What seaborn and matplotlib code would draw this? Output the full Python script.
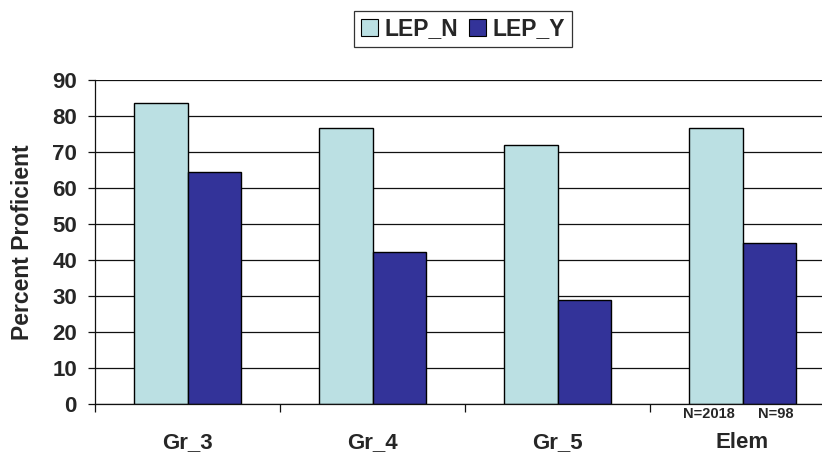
import matplotlib
matplotlib.use("Agg")
import matplotlib.pyplot as plt
import matplotlib.transforms as mtransforms
from matplotlib.patches import Patch
import seaborn as sns
import pandas as pd

# Chart data
grades = ["Gr_3", "Gr_4", "Gr_5", "Elem"]
lep_n = [83.5, 76.8, 72.0, 76.8]
lep_y = [64.5, 42.3, 28.9, 44.8]
groups = ["LEP_N", "LEP_Y"]
n_labels = ["N=2018", "N=98"]
y_ticks = [0, 10, 20, 30, 40, 50, 60, 70, 80, 90]

colors = {"LEP_N": "#BBE0E3", "LEP_Y": "#333399"}

df = pd.DataFrame({
    "Grade": grades * 2,
    "Group": [groups[0]] * len(grades) + [groups[1]] * len(grades),
    "Percent": lep_n + lep_y,
})

sns.set_style("white")
plt.rcParams["font.family"] = ["Liberation Sans", "DejaVu Sans"]
plt.rcParams["font.weight"] = "bold"

fig = plt.figure(figsize=(8.22, 4.53), dpi=100)
ax = fig.add_axes([95 / 822, 49 / 453, 740 / 822, 324 / 453])

bar_width = 0.573
sns.barplot(data=df, x="Grade", y="Percent", hue="Group", order=grades,
            hue_order=groups, palette=colors, width=bar_width,
            edgecolor="black", linewidth=1.0, saturation=1, ax=ax,
            legend=False)

ax.set_xlim(-0.5, 3.5)
ax.set_ylim(0, 90)
ax.set_yticks(y_ticks)
ax.set_yticklabels([str(v) for v in y_ticks], fontsize=16, fontweight="bold")
ax.yaxis.grid(True, color="#111111", linewidth=0.9)
ax.set_axisbelow(True)
ax.tick_params(axis="y", length=5, width=0.9, color="#111111", direction="out", pad=8, left=True)

# Category labels centered, tick marks at category boundaries
ax.set_xticks(range(len(grades)))
ax.set_xticklabels(grades, fontsize=16, fontweight="bold")
ax.tick_params(axis="x", which="major", length=0, pad=20)
ax.set_xticks([-0.5, 0.5, 1.5, 2.5], minor=True)
ax.tick_params(axis="x", which="minor", length=6, width=0.9, color="#111111", direction="out", bottom=True)

for side in ["top", "right"]:
    ax.spines[side].set_visible(False)
for side in ["left", "bottom"]:
    ax.spines[side].set_color("#111111")
    ax.spines[side].set_linewidth(0.9)

ax.set_xlabel("")
ax.set_ylabel("Percent Proficient", fontsize=16.5, fontweight="bold", labelpad=13)

# Sample sizes under the Elem bars
trans = mtransforms.blended_transform_factory(ax.transData, ax.transAxes)
elem_idx = grades.index("Elem")
for k, txt in enumerate(n_labels):
    xpos = elem_idx + (k - 0.5) * bar_width * 0.63
    ax.text(xpos, -0.008, txt, transform=trans, ha="center", va="top",
            fontsize=10.5, fontweight="bold")

handles = [Patch(facecolor=colors[g], edgecolor="black", linewidth=0.8) for g in groups]
leg = fig.legend(handles, groups, loc="center", bbox_to_anchor=(463 / 822, 1 - 29 / 453),
                 ncol=2, frameon=True, fancybox=False, edgecolor="black",
                 prop={"size": 16.5, "weight": "bold"}, handlelength=0.75,
                 handleheight=0.75, handletextpad=0.25, columnspacing=0.5,
                 borderpad=0.3, borderaxespad=0)
leg.get_frame().set_linewidth(0.9)

fig.savefig("out.png", dpi=100)
